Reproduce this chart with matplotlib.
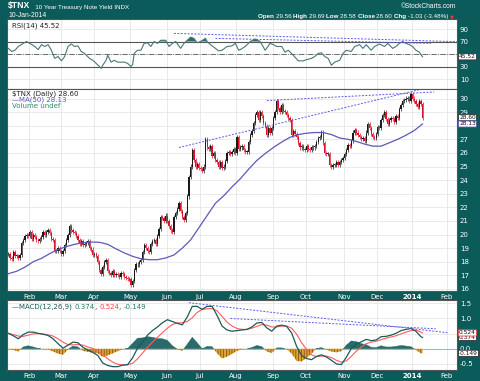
import matplotlib.pyplot as plt
import numpy as np

BG = "#0b5b5a"
TEAL = "#2b6a6a"
ORANGE = "#e2a231"
RED = "#e0102a"
BLUE = "#5a5ab8"
DASH = "#5b5bf0"
GRID = "#e6e6e6"
plt.rcParams["hatch.linewidth"] = 0.45

# trading days per month shown (Jan 2013 part, Feb 2013 ... Jan 2014)
month_days = [13, 19, 20, 22, 22, 20, 22, 22, 20, 23, 20, 21, 21]
month_labels = ["Feb", "Mar", "Apr", "May", "Jun", "Jul", "Aug", "Sep",
                "Oct", "Nov", "Dec", "2014", "Feb"]

# daily closes, 14-Jan-2013 .. 10-Jan-2014
close = np.array([
    18.6, 18.3, 18.2, 18.7, 18.4, 18.4, 18.3, 18.5, 19.4, 19.6, 19.9, 20.0, 19.9,
    20.2, 19.7, 20.0, 19.8, 19.6, 19.5, 19.7, 19.8, 20.2, 20.0, 20.2, 20.3, 20.1,
    19.7, 19.6, 18.8, 18.8, 19.0, 18.8,
    18.6, 18.8, 19.2, 19.6, 20.0, 20.6, 20.3, 20.2, 20.1, 19.9, 19.6, 19.3, 19.5,
    19.2, 19.3, 19.4, 19.5, 19.0, 18.9, 18.5,
    18.6, 18.4, 18.0, 17.4, 17.1, 17.6, 18.0, 18.1, 17.3, 17.2, 17.0, 17.3, 17.0,
    17.1, 17.0, 16.9, 17.2, 17.1, 16.9, 16.8, 16.7, 16.7,
    16.3, 16.6, 17.4, 17.8, 17.8, 18.0, 18.1, 18.7, 19.2, 19.0, 18.8, 18.7, 19.3,
    19.5, 19.6, 19.3, 19.9, 20.4, 21.3, 21.2, 21.0, 21.4,
    21.0, 20.6, 20.3, 20.2, 21.3, 21.6, 21.9, 22.3, 21.7, 21.3, 21.1, 21.6, 22.8,
    24.2, 25.0, 26.2, 25.5, 25.0, 25.2, 24.9,
    24.8, 24.7, 25.0, 27.0, 26.4, 26.3, 26.5, 25.8, 26.0, 25.5, 25.3, 25.0, 25.3,
    24.9, 25.0, 25.4, 26.0, 26.1, 25.9, 26.1, 26.3, 26.0,
    27.2, 26.3, 26.4, 26.5, 26.2, 26.1, 26.1, 26.8, 27.3, 27.6, 28.2, 28.8, 29.0,
    28.4, 29.0, 28.7, 28.2, 28.0, 27.3, 27.8, 27.5, 27.8,
    28.6, 29.0, 29.8, 29.3, 29.0, 29.5, 29.1, 29.0, 28.8, 28.6, 28.4, 27.3, 27.6,
    27.4, 27.2, 26.7, 26.4, 26.5, 26.3, 26.2,
    26.5, 26.3, 26.2, 26.4, 26.4, 26.5, 26.8, 27.1, 27.2, 27.5, 26.7, 26.0, 25.9,
    25.9, 25.1, 25.0, 25.1, 25.1, 25.3, 25.1, 25.3, 25.5, 25.6,
    25.9, 26.2, 26.6, 26.5, 26.9, 27.5, 27.7, 27.5, 27.3, 27.2, 27.0, 27.1, 26.9,
    27.5, 28.1, 27.8, 27.4, 27.2, 27.1, 27.4,
    27.9, 27.8, 28.4, 28.8, 29.0, 28.5, 28.1, 28.4, 28.6, 28.5, 28.3, 28.7, 28.6,
    29.2, 29.5, 29.8, 29.9, 30.0, 30.0, 29.8, 30.3,
    30.0, 29.8, 29.6, 29.4, 29.8, 29.63, 28.60,
])

ma_day = np.arange(0, 251, 5)
ma50 = [17.12, 17.3, 17.6, 18.0, 18.25, 18.6, 18.9, 19.12, 19.28, 19.4, 19.45,
        19.43, 19.28, 18.95, 18.65, 18.4, 18.22, 18.15, 18.15, 18.28, 18.5,
        19.0, 19.6, 20.5, 21.4, 22.3, 22.85, 23.5, 24.1, 24.8, 25.45, 25.95,
        26.4, 26.8, 27.15, 27.35, 27.45, 27.5, 27.5, 27.35, 27.1, 27.0, 26.85,
        26.65, 26.5, 26.5, 26.75, 27.0, 27.3, 27.65, 28.13]

rsi_day = np.array([0, 2, 4, 6, 9, 11, 13, 16, 18, 20, 22, 24, 26, 28, 30, 32, 34,
                    36, 38, 40, 42, 44, 46, 49, 51, 53, 55, 56, 57, 59, 60, 62, 64,
                    66, 70, 72, 74, 75, 76, 78, 80, 82, 84, 86, 88, 90, 92, 95, 97,
                    99, 101, 104, 106, 108, 110, 112, 114, 116, 119, 120, 122, 125,
                    127, 129, 132, 135, 137, 139, 140, 143, 146, 149, 152, 155, 158,
                    160, 162, 165, 167, 169, 172, 175, 178, 180, 183, 185, 187, 189,
                    191, 193, 195, 197, 200, 202, 204, 207, 209, 212, 214, 216, 219,
                    221, 224, 227, 229, 232, 234, 236, 238, 240, 242, 244, 246, 248,
                    250])
rsi_val = np.array([59, 54, 56, 62, 67, 70, 67, 62, 57, 65, 62, 65, 56, 43, 46, 39,
                    46, 62, 66, 62, 63, 54, 51, 43, 40, 35, 30, 27, 32, 40, 48, 37,
                    40, 37, 37, 35, 30, 33, 51, 56, 56, 67, 68, 62, 70, 67, 72, 72,
                    62, 67, 70, 59, 67, 72, 77, 75, 68, 70, 75, 70, 65, 59, 55, 56,
                    62, 63, 67, 56, 57, 62, 70, 74, 70, 56, 67, 65, 62, 62, 53, 56,
                    48, 39, 39, 41, 43, 46, 51, 52, 46, 43, 32, 37, 40, 51, 56, 54,
                    62, 65, 59, 65, 56, 62, 66, 62, 67, 59, 62, 67, 70, 67, 65, 62,
                    56, 53, 45.52])

macd_day = np.r_[np.arange(0, 250, 3), 250]
macd = np.array([
    0.51, 0.43, 0.33, 0.47, 0.55, 0.55, 0.51, 0.48, 0.44, 0.33,
    0.17, 0.02, 0.12, 0.22, 0.20, 0.05, -0.04, -0.12, -0.22, -0.47,
    -0.55, -0.59, -0.59, -0.54, -0.52, -0.30, 0.02, 0.22, 0.45, 0.60,
    0.72, 0.86, 0.96, 0.90, 0.84, 0.79, 1.05, 1.40, 1.40, 1.30,
    1.40, 1.40, 1.10, 0.75, 0.62, 0.58, 0.60, 0.62, 0.64, 0.72,
    0.85, 0.87, 0.69, 0.58, 0.75, 0.78, 0.74, 0.52, 0.08, -0.22,
    -0.32, -0.36, -0.25, -0.20, -0.27, -0.38, -0.50, -0.52, -0.28, 0.01,
    0.16, 0.23, 0.31, 0.27, 0.29, 0.40, 0.41, 0.45, 0.51, 0.60,
    0.64, 0.67, 0.58, 0.40, 0.374])
signal = np.array([
    0.51, 0.47, 0.42, 0.41, 0.45, 0.49, 0.50, 0.49, 0.46, 0.42,
    0.33, 0.22, 0.14, 0.13, 0.14, 0.12, 0.06, 0.01, -0.07, -0.20,
    -0.33, -0.44, -0.51, -0.53, -0.53, -0.48, -0.33, -0.14, 0.05, 0.22,
    0.38, 0.53, 0.68, 0.80, 0.85, 0.86, 0.90, 1.02, 1.20, 1.30,
    1.32, 1.33, 1.25, 1.07, 0.88, 0.75, 0.67, 0.64, 0.64, 0.68,
    0.74, 0.80, 0.78, 0.72, 0.72, 0.75, 0.75, 0.68, 0.48, 0.20,
    -0.02, -0.20, -0.26, -0.24, -0.24, -0.29, -0.38, -0.44, -0.40, -0.25,
    -0.08, 0.06, 0.17, 0.22, 0.25, 0.30, 0.35, 0.39, 0.43, 0.49,
    0.55, 0.60, 0.62, 0.55, 0.524])

# hand-drawn trend lines: (day, value) end points
rsi_trends = [((100, 83), (271, 69.7)), ((125, 75), (255, 67))]
price_trends = [((103, 26.4), (260, 31.0)), ((156, 29.85), (257, 30.48))]
macd_trends = [((109, 1.52), (265, 0.53)), ((134, 1.0), (258, 0.66))]

W, H = 480, 381
fig = plt.figure(figsize=(W / 100, H / 100), dpi=100, facecolor=BG)


def panel(top, bottom):
    return fig.add_axes([7 / W, 1 - bottom / H, 450 / W, (bottom - top) / H])


ax_rsi = panel(19, 89)
ax_px = panel(89, 291)
ax_macd = panel(300, 370)

ticks = np.cumsum(month_days) - 0.5
for ax in (ax_rsi, ax_px, ax_macd):
    ax.set_facecolor("white")
    ax.set_xlim(-0.8, 270.8)
    ax.set_xticks(ticks)
    ax.grid(True, color=GRID, lw=0.6)
    ax.set_axisbelow(True)
    ax.yaxis.tick_right()
    ax.tick_params(length=0, labelsize=5, colors="white", pad=2)
    for s in ax.spines.values():
        s.set_color("#555555")
        s.set_linewidth(0.8)

ax_rsi.set_xticklabels([])
for ax in (ax_px, ax_macd):
    ax.set_xticklabels(month_labels)
    for lab in ax.get_xticklabels():
        if lab.get_text() == "2014":
            lab.set_fontweight("bold")

# RSI panel
ax_rsi.set_ylim(-6, 106)
ax_rsi.set_yticks([10, 30, 50, 70, 90])
ax_rsi.set_yticklabels(["10", "30", "", "70", "90"])
ax_rsi.axhline(70, color="#555555", lw=0.8)
ax_rsi.axhline(30, color="#555555", lw=0.8)
ax_rsi.axhline(50, color="#555555", lw=0.6, ls="-.")
ax_rsi.fill_between(rsi_day, rsi_val, 70, where=rsi_val > 70, interpolate=True,
                    color=TEAL, lw=0)
ax_rsi.fill_between(rsi_day, rsi_val, 30, where=rsi_val < 30, interpolate=True,
                    color=ORANGE, lw=0)
ax_rsi.plot(rsi_day, rsi_val, color="#4a7777", lw=0.8)
for (x0, y0), (x1, y1) in rsi_trends:
    ax_rsi.plot([x0, x1], [y0, y1], color=DASH, lw=0.7, ls=(0, (2, 1.5)))
ax_rsi.text(0.012, 0.9, "RSI(14) 45.52", transform=ax_rsi.transAxes, fontsize=5,
            color="#222222", va="center")

# price panel
days = np.arange(len(close))
opens = np.r_[close[0], close[:-1]]
lo = np.minimum(opens, close)
hi = np.maximum(opens, close)
cols = np.where(close >= opens, "#1a1a1a", RED)
ax_px.vlines(days, lo - 0.15, hi + 0.15, colors=cols, lw=0.5)
ax_px.bar(days, np.maximum(hi - lo, 0.06), bottom=lo, width=0.75, color=cols, lw=0)
ax_px.plot(ma_day, ma50, color=BLUE, lw=0.9)
for (x0, y0), (x1, y1) in price_trends:
    ax_px.plot([x0, x1], [y0, y1], color=DASH, lw=0.7, ls=(0, (2, 1.5)))
ax_px.set_ylim(15.85, 30.7)
ax_px.set_yticks(range(16, 31))
ax_px.set_yticklabels(["" if v == 28 else str(v) for v in range(16, 31)])
ax_px.text(0.012, 0.978, r"\$TNX (Daily) 28.60", transform=ax_px.transAxes,
           fontsize=5, color="#222222", va="center")
ax_px.text(0.012, 0.948, "—MA(50) 28.13", transform=ax_px.transAxes,
           fontsize=5, color=BLUE, va="center")
ax_px.text(0.012, 0.918, "Volume undef", transform=ax_px.transAxes,
           fontsize=5, color="#2e8b6b", va="center")

# MACD panel
hist = macd - signal
ax_macd.fill_between(macd_day, hist, 0, where=hist >= 0, interpolate=True,
                     facecolor=TEAL, edgecolor=TEAL, lw=0.3)
ax_macd.fill_between(macd_day, hist, 0, where=hist < 0, interpolate=True,
                     facecolor=ORANGE, edgecolor="#5a3d0a", hatch="||||||", lw=0)
ax_macd.axhline(0, color="#8a9a9a", lw=0.5)
ax_macd.plot(macd_day, signal, color="#ff5c5c", lw=0.8)
ax_macd.plot(macd_day, macd, color="#1d5a5a", lw=0.9)
for (x0, y0), (x1, y1) in macd_trends:
    ax_macd.plot([x0, x1], [y0, y1], color=DASH, lw=0.7, ls=(0, (2, 1.5)))
ax_macd.set_ylim(-0.7, 1.61)
ax_macd.set_yticks([-0.5, 0.0, 0.5, 1.0, 1.5])
ax_macd.set_yticklabels(["-0.5", "0.0", "", "1.0", "1.5"])


def chain(first, pieces):
    t = first
    for txt, kw in pieces:
        t = ax_macd.annotate(txt, xy=(1, 0), xycoords=t, va="bottom", ha="left",
                             annotation_clip=False, **kw)
    return t


t = ax_macd.text(0.012, 0.9, "—MACD(12,26,9) ", transform=ax_macd.transAxes,
                 fontsize=5, color="#1d5a5a", va="center")
chain(t, [("0.374", dict(fontsize=5, color="#2b7a6a")),
          (", ", dict(fontsize=5, color="#222222")),
          ("0.524", dict(fontsize=5, color="#ff4040")),
          (", ", dict(fontsize=5, color="#222222")),
          ("-0.149", dict(fontsize=5, color="#2b7a6a"))])


def tag(ax, y, txt, edge):
    ax.annotate(txt, xy=(1.0, y), xycoords=("axes fraction", "data"),
                xytext=(1.5, 0), textcoords="offset points", fontsize=4.2,
                va="center", ha="left", color="#111111",
                bbox=dict(boxstyle="round,pad=0.1", fc="white", ec=edge, lw=0.6))


tag(ax_rsi, 45.52, "45.52", "#333333")
tag(ax_px, 28.60, "28.60", "#333333")
tag(ax_px, 28.13, "28.13", BLUE)
tag(ax_macd, 0.374, "0.374", "#333333")
tag(ax_macd, 0.524, "0.524", "#ff4040")
tag(ax_macd, -0.149, "-0.149", "#333333")

# header
HEAD = dict(color="white", family="Liberation Sans")
t = fig.text(8 / W, 1 - 10 / H, r"\$TNX", fontsize=6.2, fontweight="bold",
             va="bottom", ha="left", **HEAD)
chain(t, [("   10 Year Treasury Note Yield INDX", dict(fontsize=4.5, **HEAD))])
fig.text(8 / W, 1 - 19 / H, "10-Jan-2014", fontsize=4.9, va="bottom", ha="left",
         **HEAD)
fig.text(456 / W, 1 - 10 / H, "©StockCharts.com", fontsize=4.8, va="bottom",
         ha="right", **HEAD)
bold = dict(fontsize=4.5, fontweight="bold", **HEAD)
norm = dict(fontsize=4.5, **HEAD)
t = fig.text(258 / W, 1 - 19 / H, "Open ", va="bottom", ha="left", **bold)
chain(t, [("29.56 ", norm), ("High ", bold), ("29.69 ", norm), ("Low ", bold),
          ("28.58 ", norm), ("Close ", bold), ("28.60 ", norm), ("Chg ", bold),
          ("-1.03 (-3.48%) ", norm),
          ("▼", dict(fontsize=3.8, color="#ff3030", family="DejaVu Sans"))])

fig.savefig("out.png", dpi=100, facecolor=BG)
